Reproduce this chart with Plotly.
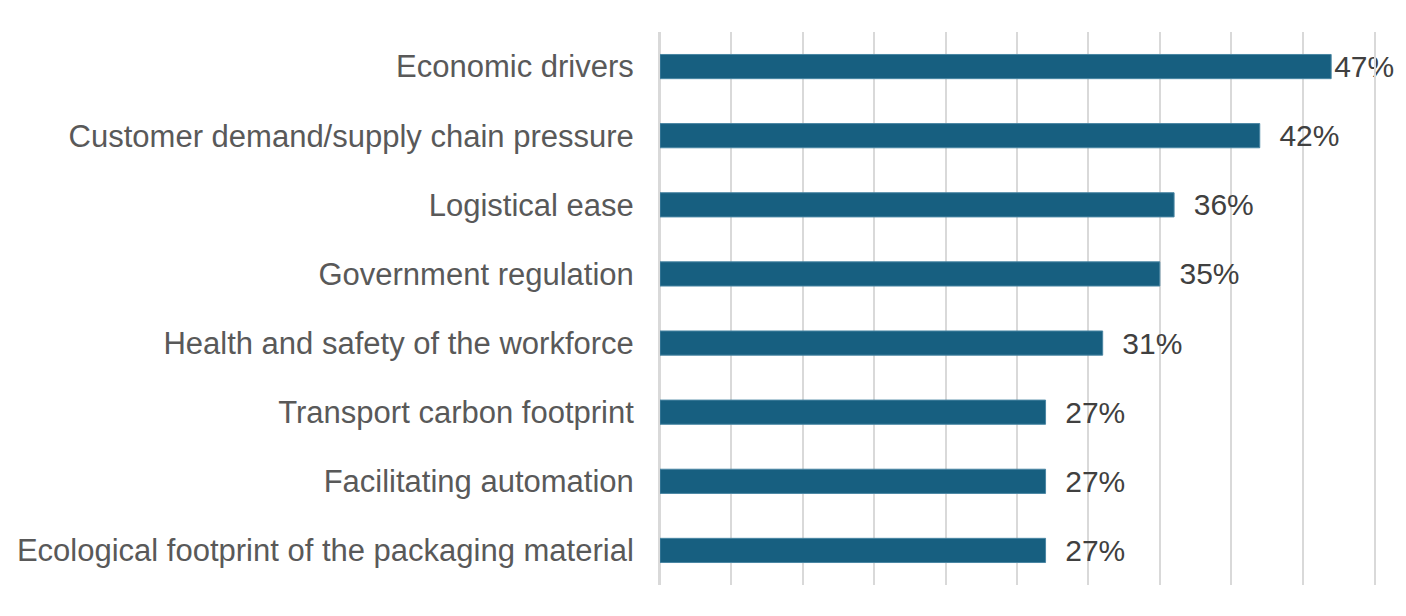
import plotly.graph_objects as go

categories = [
    "Economic drivers",
    "Customer demand/supply chain pressure",
    "Logistical ease",
    "Government regulation",
    "Health and safety of the workforce",
    "Transport carbon footprint",
    "Facilitating automation",
    "Ecological footprint of the packaging material",
]
values = [47, 42, 36, 35, 31, 27, 27, 27]
value_labels = ["47%", "42%", "36%", "35%", "31%", "27%", "27%", "27%"]
x_ticks = [0, 5, 10, 15, 20, 25, 30, 35, 40, 45, 50]

# small gap before labels, except where the label would run off the page
shown_text = [(lbl if v > 45 else "\u00a0\u00a0" + lbl) for v, lbl in zip(values, value_labels)]

FONT = "Liberation Sans, Arial, sans-serif"

fig = go.Figure(go.Bar(
    y=categories,
    x=values,
    orientation="h",
    marker=dict(color="#175f80", line=dict(color="#4a86a3", width=1)),
    width=0.35,
    text=shown_text,
    textposition="outside",
    constraintext="none",
    textfont=dict(family=FONT, size=30, color="#404040"),
    cliponaxis=False,
))

fig.update_layout(
    width=1398, height=608,
    margin=dict(l=652, r=32, t=24, b=31, autoexpand=False),
    paper_bgcolor="white", plot_bgcolor="white",
    showlegend=False,
    font=dict(family=FONT, size=31, color="#595959"),
    xaxis=dict(
        range=[0, 50], tickvals=x_ticks, showticklabels=False,
        showgrid=True, gridcolor="#d9d9d9", gridwidth=2,
        zeroline=True, zerolinecolor="#d9d9d9", zerolinewidth=2,
        showline=False, fixedrange=True, automargin=False,
    ),
    yaxis=dict(
        autorange="reversed", showgrid=False, automargin=False,
        showline=True, mirror=True, linecolor="#d9d9d9", linewidth=2,
        ticks="", ticklabelstandoff=18,
        tickfont=dict(family=FONT, size=31, color="#595959"),
    ),
)

fig.write_html("out.html")
